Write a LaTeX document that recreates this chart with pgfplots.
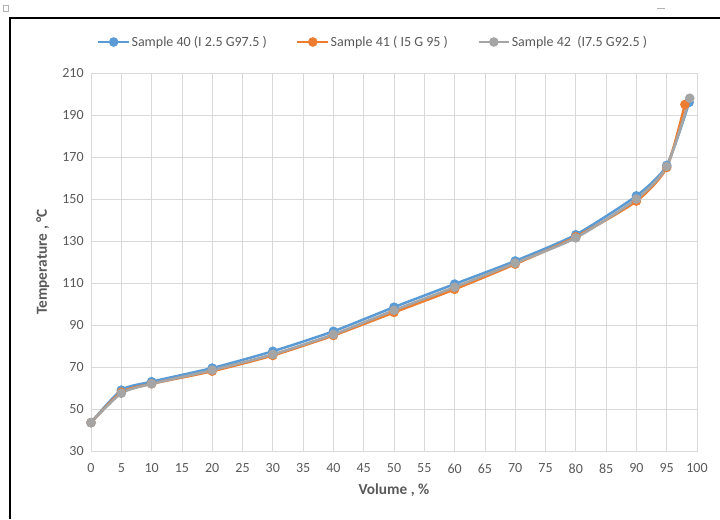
\documentclass[border=0pt]{standalone}
\usepackage{pgfplots}
\pgfplotsset{compat=1.18}
\usepackage{fontspec}
\setmainfont{Carlito}
\definecolor{c40}{HTML}{5B9BD5}
\definecolor{c41}{HTML}{ED7D31}
\definecolor{c42}{HTML}{A5A5A5}
\definecolor{txt}{HTML}{595959}
\definecolor{grd}{HTML}{D9D9D9}
\begin{document}
\begin{tikzpicture}[x=0.75pt,y=0.75pt]
\useasboundingbox (0,0) rectangle (720,519);
% frame
\draw[line width=1.6pt,black] (10,0) -- (10,501) -- (720,501);
\draw[gray!60,line width=0.5pt] (3,508) rectangle (8,514);
\draw[gray!60,line width=0.6pt] (657,511) -- (665,511);
\begin{axis}[
  scale only axis,
  width=454.5pt, height=283.5pt,
  at={(68.25pt,51pt)}, anchor=south west,
  xmin=0, xmax=100, ymin=30, ymax=210,
  xtick={0,5,...,100}, ytick={30,50,...,210},
  grid=major,
  major grid style={grd,line width=0.6pt},
  axis line style={grd,line width=0.6pt},
  tick style={draw=none},
  ticklabel style={font=\fontsize{10.5}{12}\selectfont, text=txt},
  /pgf/number format/assume math mode=true,
  xticklabel style={yshift=-6pt},
  yticklabel style={xshift=-2pt},
  xlabel={Volume , \%},
  ylabel={Temperature , °C},
  label style={font=\bfseries\fontsize{11.5}{13}\selectfont, text=txt},
  xlabel style={yshift=-1pt},
  ylabel style={yshift=3pt},
  legend columns=3,
  legend style={draw=none, fill=none, at={(0.466,1.082)}, anchor=center,
    font=\fontsize{10.5}{12}\selectfont, text=txt,
    /tikz/every even column/.append style={column sep=20pt},
    /tikz/every odd column/.append style={column sep=-1pt}},
  legend image code/.code={
    \draw[#1, mark repeat=2, mark phase=2] plot coordinates {(0pt,0pt) (11.5pt,0pt) (23pt,0pt)};},
  every axis plot/.append style={line width=1.9pt, mark=*, mark size=2.6pt, smooth, tension=0.4},
]
\addplot[c40, mark options={fill=c40, draw=c40}] coordinates {
(0,43.5) (5,59) (10,63) (20,69.5) (30,77.5) (40,87) (50,98.5) (60,109.5) (70,120.5) (80,133) (90,151.5) (95,166) (98.7,196)};
\addlegendentry{Sample 40 (I 2.5 G97.5 )}
\addplot[c41, mark options={fill=c41, draw=c41}] coordinates {
(0,43.5) (5,58) (10,62) (20,68) (30,75.5) (40,85) (50,96) (60,107) (70,119) (80,132) (90,149) (95,165) (98,195)};
\addlegendentry{Sample 41 ( I5 G 95 )}
\addplot[c42, mark options={fill=c42, draw=c42}] coordinates {
(0,43.5) (5,57.5) (10,62) (20,68.5) (30,76) (40,85.5) (50,97) (60,108) (70,119.5) (80,131.5) (90,150) (95,165.5) (98.8,198)};
\addlegendentry{Sample 42\ \ (I7.5 G92.5 )}
\end{axis}
\end{tikzpicture}
\end{document}
